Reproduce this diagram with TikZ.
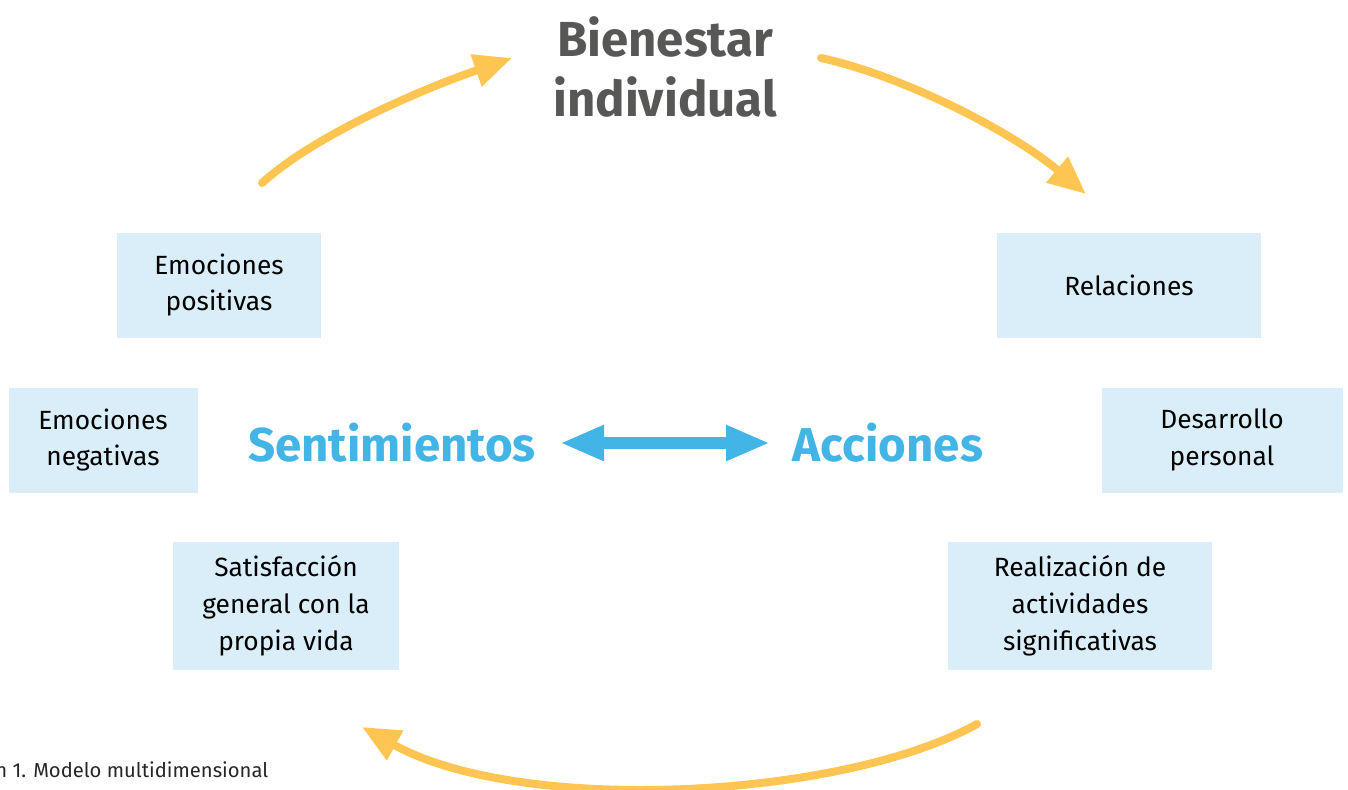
\documentclass[tikz,border=0pt]{standalone}
\usepackage{fontspec}
\setmainfont{Fira Sans}
\usepackage{xcolor}
\usetikzlibrary{positioning,arrows.meta}

\definecolor{boxblue}{RGB}{218,238,249}
\definecolor{textblue}{RGB}{66,181,230}
\definecolor{arrowyellow}{RGB}{255,197,83}
\definecolor{titlegray}{RGB}{87,87,86}

\begin{document}
\begin{tikzpicture}[x=0.02cm, y=-0.02cm,
    dimbox/.style={rectangle, fill=boxblue, align=center, font=\fontsize{15}{21}\selectfont, inner sep=0pt},
    maintitle/.style={align=center, font=\fontsize{28}{34}\selectfont\bfseries, text=titlegray},
    sidetitle/.style={font=\fontsize{27}{32}\selectfont\bfseries, text=textblue},
    cyclearrow/.style={-{Triangle[length=0.76cm, width=0.64cm]}, line width=0.16cm, line cap=round, arrowyellow},
    botharrow/.style={{Triangle[length=0.88cm, width=0.66cm]}-{Triangle[length=0.88cm, width=0.66cm]}, line width=0.24cm, textblue},
]
\useasboundingbox (0,0) rectangle (1348,789);

% === TITLES ===
\node[maintitle] (bien) at (665,67) {Bienestar\\individual};
\node[sidetitle] (sent) at (392,443) {Sentimientos};
\node[sidetitle] (acc)  at (888,443) {Acciones};

% === LEFT BOXES ===
\node[dimbox, minimum width=204*0.02cm, minimum height=105*0.02cm] (emopos) at (219,285) {Emociones\\positivas};
\node[dimbox, minimum width=189*0.02cm, minimum height=105*0.02cm] (emoneg) at (103,440) {Emociones\\negativas};
\node[dimbox, minimum width=226*0.02cm, minimum height=128*0.02cm] (satis)  at (286,606) {Satisfacción\\general con la\\propia vida};

% === RIGHT BOXES ===
\node[dimbox, minimum width=264*0.02cm, minimum height=105*0.02cm] (rel)  at (1129,285) {Relaciones};
\node[dimbox, minimum width=241*0.02cm, minimum height=105*0.02cm] (des)  at (1222,440) {Desarrollo\\personal};
\node[dimbox, minimum width=264*0.02cm, minimum height=128*0.02cm] (real) at (1080,606) {Realización de\\actividades\\significativas};

% === ARROWS ===
\coordinate (tlA) at (262,183);
\coordinate (tlB) at (512,58);
\coordinate (trA) at (821,58);
\coordinate (trB) at (1086,194);
\coordinate (btA) at (977,724);
\coordinate (btB) at (362,727);
\coordinate (dlA) at (560,443);
\coordinate (dlB) at (770,443);

\draw[cyclearrow] (tlA) .. controls (315,135) and (420,90) .. (tlB);
\draw[cyclearrow] (trA) .. controls (900,75) and (1010,130) .. (trB);
\draw[cyclearrow] (btA) .. controls (840,800) and (520,815) .. (btB);
\draw[botharrow] (dlA) -- (dlB);

% === CAPTION ===
\node[anchor=base west, inner sep=0pt, font=\fontsize{11.5}{14}\selectfont, text=black!85] (cap) at (-5,777) {n 1. Modelo multidimensional};

\end{tikzpicture}
\end{document}
